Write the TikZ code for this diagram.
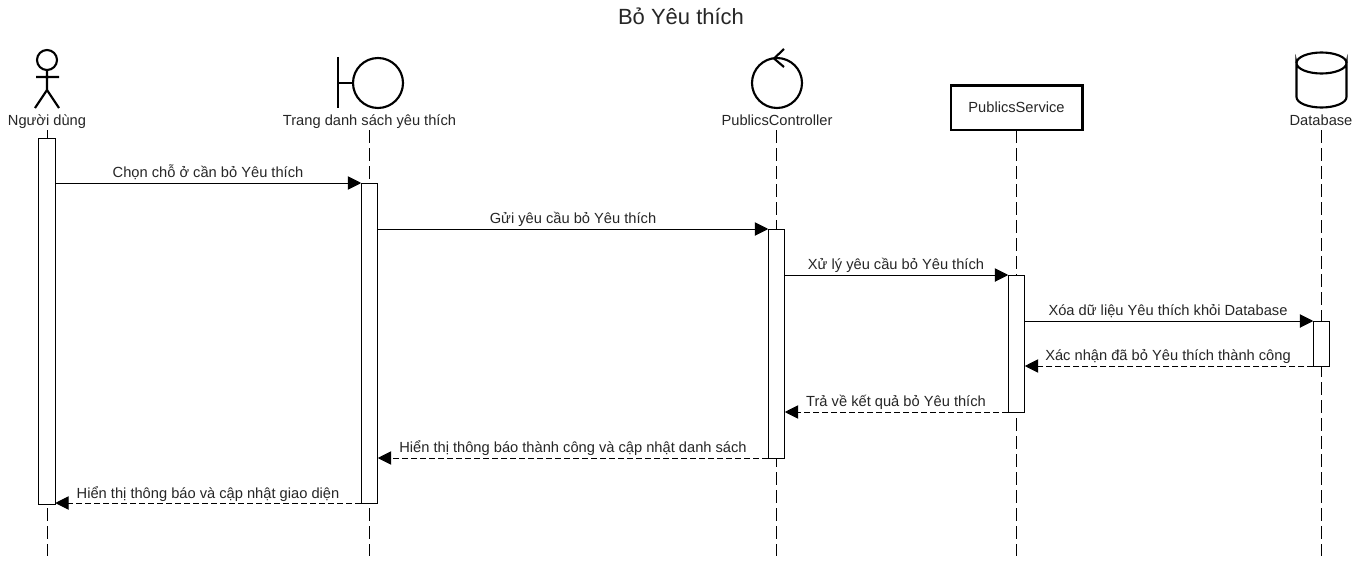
\documentclass[tikz,border=0pt]{standalone}
\usepackage{fontspec}
\setmainfont{Liberation Sans}
\usetikzlibrary{arrows.meta}
\begin{document}
\begin{tikzpicture}[x=0.75pt,y=-0.75pt,
  every node/.style={inner sep=0pt,outer sep=0pt,text=black!85},
  lbl/.style={font=\fontsize{11pt}{13pt}\selectfont,anchor=base},
  msglbl/.style={font=\fontsize{11pt}{13pt}\selectfont,anchor=base},
  sym/.style={line width=1.6pt,black},
  life/.style={line width=0.75pt,dash pattern=on 9.75pt off 3.75pt,black},
  actbox/.style={draw=black,line width=0.75pt,fill=white,minimum width=12.4pt,anchor=north},
  call/.style={line width=0.75pt,black,-{Triangle[length=10pt,width=10pt]}},
  ret/.style={line width=0.75pt,black,dash pattern=on 4.5pt off 2.25pt,-{Triangle[length=10pt,width=10pt]}}]
\useasboundingbox (0,0) rectangle (1362,560);
\fill[white] (0,0) rectangle (1362,560);
\node[font=\fontsize{16.5pt}{20pt}\selectfont,anchor=base] (title) at (681,25) {Bỏ Yêu thích};

% lifeline anchors
\coordinate (t1) at (47,130); \coordinate (b1) at (47,556);
\coordinate (t2) at (369.5,130); \coordinate (b2) at (369.5,556);
\coordinate (t3) at (776.5,130); \coordinate (b3) at (776.5,556);
\coordinate (t4) at (1016.5,130); \coordinate (b4) at (1016.5,556);
\coordinate (t5) at (1321.5,130); \coordinate (b5) at (1321.5,556);
\draw[life] (t1) -- (b1);
\draw[life] (t2) -- (b2);
\draw[life] (t3) -- (b3);
\draw[life] (t4) -- (b4);
\draw[life] (t5) -- (b5);

% headers
\node[lbl] (h1) at (47,125) {Người dùng};
\node[lbl] (h2) at (369.5,125) {Trang danh sách yêu thích};
\node[lbl] (h3) at (777,125) {PublicsController};
\node[draw=black,line width=2pt,fill=white,minimum width=98.5pt,minimum height=33.5pt,font=\fontsize{11pt}{13pt}\selectfont] (h4) at (1016.5,107.5) {PublicsService};
\node[lbl] (h5) at (1321,125) {Database};

% actor
\draw[sym] (47,60) circle[radius=10];
\draw[sym] (47,70) -- (47,90) (36,77) -- (59,77) (35,108) -- (47,90) -- (59,108);
% boundary
\draw[sym] (338,57) -- (338,108) (338,83) -- (353,83);
\draw[sym] (378,83) circle[radius=25];
% control
\draw[sym] (777,83) circle[radius=25];
\draw[sym] (784,49) -- (774,58.5) -- (784,67);
% database
\draw[sym] (1296.5,63) arc[start angle=180,end angle=0,x radius=25,y radius=10.5] -- (1346.5,97)
  arc[start angle=0,end angle=180,x radius=25,y radius=10.5] -- cycle;
\draw[sym] (1296.5,63) arc[start angle=180,end angle=360,x radius=25,y radius=10.5];

% activations
\node[actbox,minimum height=274.5pt] (a1) at (47,138) {};
\node[actbox,minimum height=240pt] (a2) at (369.5,183) {};
\node[actbox,minimum height=171.75pt] (a3) at (776.5,229) {};
\node[actbox,minimum height=102.75pt] (a4) at (1016.5,275) {};
\node[actbox,minimum height=33.75pt] (a5) at (1321.5,321) {};

% messages
\draw[call] (a1.east |- a2.north) -- (a2.north west);
\draw[call] (a2.east |- a3.north) -- (a3.north west);
\draw[call] (a3.east |- a4.north) -- (a4.north west);
\draw[call] (a4.east |- a5.north) -- (a5.north west);
\draw[ret] (a5.south west) -- (a4.east |- a5.south);
\draw[ret] (a4.south west) -- (a3.east |- a4.south);
\draw[ret] (a3.south west) -- (a2.east |- a3.south);
\draw[ret] (a2.south west) -- (a1.east |- a2.south);

% message labels
\node[msglbl] (m1) at (208,177) {Chọn chỗ ở cần bỏ Yêu thích};
\node[msglbl] (m2) at (573,223) {Gửi yêu cầu bỏ Yêu thích};
\node[msglbl] (m3) at (896,269) {Xử lý yêu cầu bỏ Yêu thích};
\node[msglbl] (m4) at (1168,315) {Xóa dữ liệu Yêu thích khỏi Database};
\node[msglbl] (m5) at (1168,360) {Xác nhận đã bỏ Yêu thích thành công};
\node[msglbl] (m6) at (896,406) {Trả về kết quả bỏ Yêu thích};
\node[msglbl] (m7) at (573,452) {Hiển thị thông báo thành công và cập nhật danh sách};
\node[msglbl] (m8) at (208,498) {Hiển thị thông báo và cập nhật giao diện};
\end{tikzpicture}
\end{document}
